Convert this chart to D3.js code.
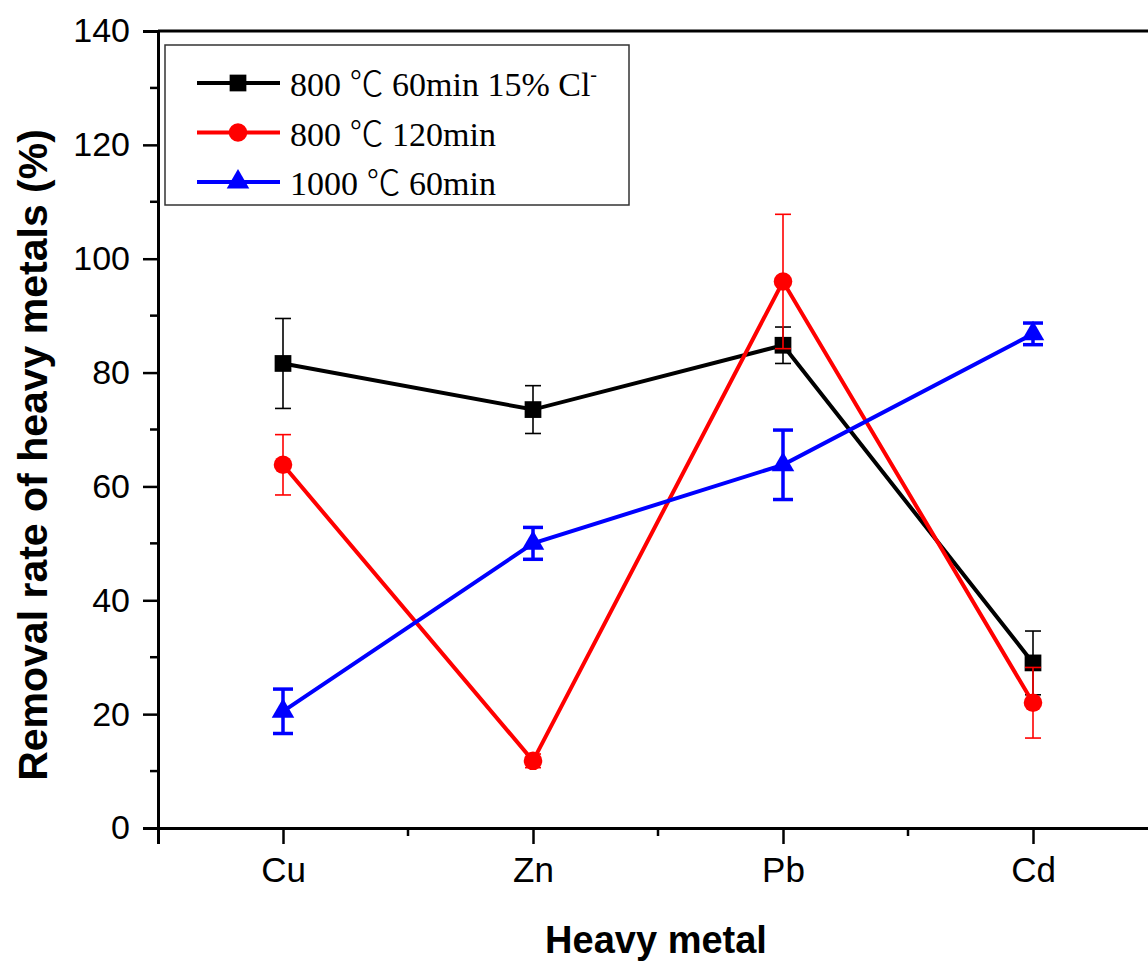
<!DOCTYPE html>
<html>
<head>
<meta charset="utf-8">
<script src="https://cdn.jsdelivr.net/npm/d3@7"></script>
<style>
  body { margin: 0; background: #fff; }
  svg { display: block; }
</style>
</head>
<body>
<div id="chart"></div>
<script>
// data
var metals = ["Cu", "Zn", "Pb", "Cd"];
var temps = ["800", "800", "1000"];
var conds = ["60min 15% Cl", "120min", "60min"];
var colors = ["#000000", "#ff0000", "#0000ff"];
var chloride_vals = [81.6, 73.5, 84.8, 29.0];
var chloride_err = [7.9, 4.2, 3.2, 5.6];
var long_vals = [63.8, 11.8, 96.0, 22.0];
var long_err = [5.3, 1.2, 11.8, 6.2];
var hot_vals = [20.5, 50.0, 63.8, 86.8];
var hot_err = [3.9, 2.8, 6.1, 1.9];
var y_ticks = [0, 20, 40, 60, 80, 100, 120, 140];

var series = [
  {temp: temps[0], cond: conds[0], color: colors[0], vals: chloride_vals, err: chloride_err, shape: d3.symbolSquare, size: 280, err_w: 1.6, cap: 8, sup: "-"},
  {temp: temps[1], cond: conds[1], color: colors[1], vals: long_vals, err: long_err, shape: d3.symbolCircle, size: 270, err_w: 1.6, cap: 8},
  {temp: temps[2], cond: conds[2], color: colors[2], vals: hot_vals, err: hot_err, shape: d3.symbolTriangle, size: 220, err_w: 3.5, cap: 10}
];

var width = 1148, height = 965;
var margin = {left: 158, top: 31, bottom: 137};
var svg = d3.select("#chart").append("svg")
  .attr("width", width).attr("height", height);

var x = d3.scaleLinear().domain([0.5, 4.5]).range([margin.left, 1158]);
var y = d3.scaleLinear().domain([0, 140]).range([height - margin.bottom, margin.top]);

var sans = "Liberation Sans, Arial, sans-serif";
var serif = "Liberation Serif, Times New Roman, serif";

// top frame line
svg.append("line")
  .attr("x1", margin.left).attr("x2", width)
  .attr("y1", y(140)).attr("y2", y(140))
  .attr("stroke", "#000").attr("stroke-width", 3);

// y axis
var yAxis = d3.axisLeft(y).tickValues(y_ticks).tickSize(15).tickPadding(13);
var gy = svg.append("g").attr("transform", "translate(" + margin.left + ",0)").call(yAxis);
gy.selectAll("text").attr("font-family", sans).attr("font-size", "34px").attr("fill", "#000");
gy.select(".domain").attr("stroke-width", 3);
gy.selectAll(".tick line").attr("stroke-width", 2.5);
gy.selectAll(".minor")
  .data(d3.range(10, 140, 20))
  .enter().append("line")
  .attr("x1", -8).attr("x2", 0)
  .attr("y1", function(d) { return y(d); })
  .attr("y2", function(d) { return y(d); })
  .attr("stroke", "#000").attr("stroke-width", 2.5);

// x axis
var xAxis = d3.axisBottom(x).tickValues([1, 2, 3, 4])
  .tickFormat(function(d) { return metals[d - 1]; })
  .tickSize(16).tickPadding(13);
var gx = svg.append("g").attr("transform", "translate(0," + y(0) + ")").call(xAxis);
gx.selectAll("text").attr("font-family", sans).attr("font-size", "35px").attr("fill", "#000");
gx.select(".domain").attr("stroke-width", 3);
gx.selectAll(".tick line").attr("stroke-width", 2.5);
gx.selectAll(".minor")
  .data([1.5, 2.5, 3.5])
  .enter().append("line")
  .attr("x1", function(d) { return x(d); })
  .attr("x2", function(d) { return x(d); })
  .attr("y1", 0).attr("y2", 8)
  .attr("stroke", "#000").attr("stroke-width", 2.5);

// axis titles
svg.append("text")
  .attr("x", 656).attr("y", 953)
  .attr("text-anchor", "middle")
  .attr("font-family", sans).attr("font-weight", "bold").attr("font-size", "38px")
  .text("Heavy metal");
svg.append("text")
  .attr("transform", "translate(47,455) rotate(-90)")
  .attr("text-anchor", "middle")
  .attr("font-family", sans).attr("font-weight", "bold").attr("font-size", "41px")
  .text("Removal rate of heavy metals (%)");

// lines, error bars, markers
var line = d3.line()
  .x(function(d, i) { return x(i + 1); })
  .y(function(d) { return y(d); });

series.forEach(function(s) {
  var g = svg.append("g");
  g.append("path")
    .attr("d", line(s.vals))
    .attr("fill", "none")
    .attr("stroke", s.color)
    .attr("stroke-width", 4);

  var eb = g.selectAll(".err")
    .data(s.vals)
    .enter().append("g");
  eb.append("line")
    .attr("x1", function(d, i) { return x(i + 1); })
    .attr("x2", function(d, i) { return x(i + 1); })
    .attr("y1", function(d, i) { return y(d + s.err[i]); })
    .attr("y2", function(d, i) { return y(d - s.err[i]); })
    .attr("stroke", s.color).attr("stroke-width", s.err_w);
  [1, -1].forEach(function(sign) {
    eb.append("line")
      .attr("x1", function(d, i) { return x(i + 1) - s.cap; })
      .attr("x2", function(d, i) { return x(i + 1) + s.cap; })
      .attr("y1", function(d, i) { return y(d + sign * s.err[i]); })
      .attr("y2", function(d, i) { return y(d + sign * s.err[i]); })
      .attr("stroke", s.color).attr("stroke-width", s.err_w);
  });

  g.selectAll(".marker")
    .data(s.vals)
    .enter().append("path")
    .attr("d", d3.symbol().type(s.shape).size(s.size))
    .attr("transform", function(d, i) { return "translate(" + x(i + 1) + "," + y(d) + ")"; })
    .attr("fill", s.color);
});

// legend
var legend = svg.append("g");
legend.append("rect")
  .attr("x", 165).attr("y", 45).attr("width", 464).attr("height", 160)
  .attr("fill", "#fff").attr("stroke", "#333").attr("stroke-width", 1.5);

var rows = legend.selectAll(".row")
  .data(series)
  .enter().append("g")
  .attr("transform", function(d, i) { return "translate(0," + (83 + i * 49.5) + ")"; });
rows.append("line")
  .attr("x1", 197).attr("x2", 280).attr("y1", 0).attr("y2", 0)
  .attr("stroke", function(d) { return d.color; })
  .attr("stroke-width", 4);
rows.append("path")
  .attr("d", function(d) { return d3.symbol().type(d.shape).size(d.size)(); })
  .attr("transform", "translate(238,0)")
  .attr("fill", function(d) { return d.color; });
var lt = rows.append("text")
  .attr("x", 290).attr("y", 13)
  .attr("font-family", serif)
  .attr("font-size", "34px")
  .attr("fill", "#000")
  .attr("xml:space", "preserve");
lt.append("tspan").text(function(d) { return d.temp + " "; });
lt.append("tspan")
  .attr("font-family", "Noto Sans CJK SC")
  .attr("font-weight", "300")
  .text("℃");
lt.append("tspan").text(function(d) { return " " + d.cond; });
lt.filter(function(d) { return d.sup; })
  .append("tspan")
  .attr("dy", -15)
  .attr("font-size", "20px")
  .text(function(d) { return d.sup; });
</script>
</body>
</html>
